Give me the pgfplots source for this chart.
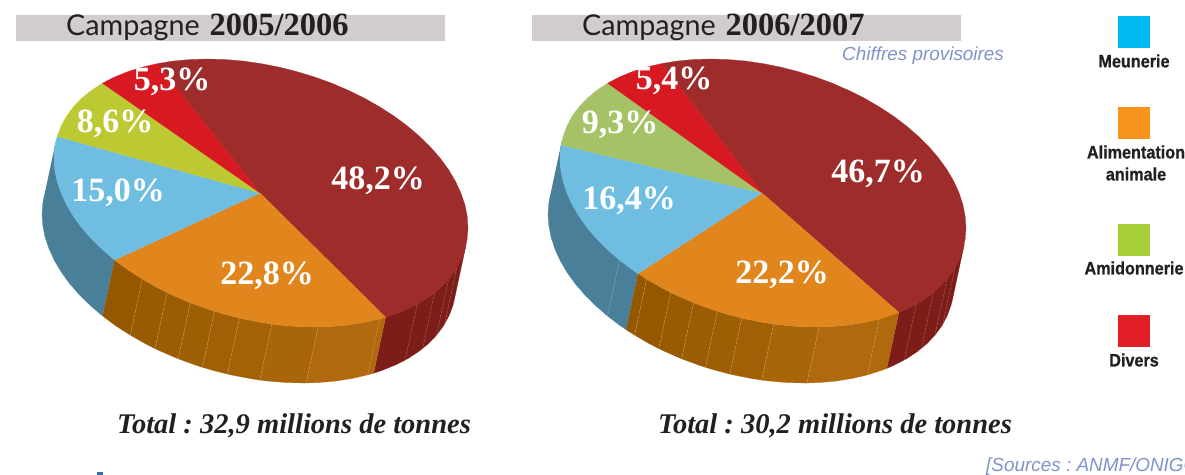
\documentclass[border=0pt]{standalone}
\usepackage{fontspec}
\usepackage{pgfplots}
\pgfplotsset{compat=1.18}
\setmainfont{Liberation Serif}
\newfontfamily\titlefont{Lato}
\newfontfamily\legfont[FakeStretch=0.9,FakeBold=0.7]{Liberation Sans Bold}
\newfontfamily\notefont{Liberation Sans}
\definecolor{banner}{HTML}{D1CDCD}
\definecolor{ink}{HTML}{231F20}
\definecolor{notec}{HTML}{7F93C9}
\definecolor{maroonT}{HTML}{9E2C2A}
\definecolor{maroonS}{HTML}{7D1D1A}
\definecolor{orangeT}{HTML}{E0861C}
\definecolor{blueT}{HTML}{6FBEE2}
\definecolor{blueS}{HTML}{4A7F99}
\definecolor{greenA}{HTML}{BCC933}
\definecolor{greenB}{HTML}{A5C366}
\definecolor{redT}{HTML}{D71A21}
\definecolor{sepO}{HTML}{D2A868}
\definecolor{sepM}{HTML}{B47A74}
\definecolor{sepB}{HTML}{9DBCCB}
\definecolor{oa}{HTML}{955800}
\definecolor{ob}{HTML}{985A02}
\definecolor{oc}{HTML}{9B5C03}
\definecolor{od}{HTML}{9E5E04}
\definecolor{oe}{HTML}{A16006}
\definecolor{of}{HTML}{A46207}
\definecolor{og}{HTML}{A96509}
\definecolor{oh}{HTML}{B0690C}
\definecolor{legA}{HTML}{00B9F2}
\definecolor{legB}{HTML}{F7941D}
\definecolor{legC}{HTML}{A6CE39}
\definecolor{legD}{HTML}{E21E26}
\definecolor{speck}{HTML}{2F6FB5}
\pgfplotsset{
  slice/.style={fill=#1,draw=#1,line width=0.2pt,mark=none},
  sepline/.style={draw=#1,line width=0.3pt,dash pattern=on 3pt off 1pt,mark=none},
}
\frenchspacing
\newcommand{\pct}[2]{\node[text=white,font=\fontsize{34}{34}\selectfont\bfseries] at (axis cs:#1) {#2};}
\newcommand{\leglab}[2]{\node[text=ink,font=\legfont\fontsize{18}{18}\selectfont] at (axis cs:#1) {#2};}
\begin{document}
\begin{tikzpicture}
\path[use as bounding box] (0,0) rectangle (1185pt,474pt);
\begin{axis}[
  at={(0,0)},anchor=south west,
  scale only axis,width=1185pt,height=474pt,
  xmin=0,xmax=1185,ymin=0,ymax=474,y dir=reverse,
  axis lines=none,clip=false,
]
% banners
\addplot[slice=banner] coordinates {(16,15)(444,15)(444,40)(16,40)};
\addplot[slice=banner] coordinates {(532,15)(960,15)(960,40)(532,40)};

% ---- left pie, sides
\addplot[slice=blueS] coordinates {(55.8,141.7)(54.8,147.2)(54,158.3)(54.8,169.7)(57.1,181.3)(61.1,193)(66.5,204.7)(73.4,216.3)(81.7,227.7)(91.4,238.8)(102.4,249.6)(114.6,260)
 (102.6,316)(90.4,305.6)(79.4,294.8)(69.7,283.7)(61.4,272.3)(54.5,260.7)(49.1,249)(45.1,237.3)(42.8,225.7)(42,214.3)(42.8,203.2)(43.8,197.7)};
\addplot[slice=maroonS] coordinates {(385.6,317.2)(394.1,314.4)(407.4,309)(419.6,302.8)(430.6,295.6)(440.3,287.8)(448.6,279.1)(455.5,269.9)(460.9,260)(464.9,249.6)(466.2,244.3)
 (454.2,300.3)(452.9,305.6)(448.9,316)(443.5,325.9)(436.6,335.1)(428.3,343.8)(418.6,351.6)(407.6,358.8)(395.4,365)(382.1,370.4)(373.6,373.2)};
\addplot[slice=oa] coordinates {(114.6,260)(127.9,269.9)(142.3,279.1)(130.3,335.1)(115.9,325.9)(102.6,316)};
\addplot[slice=ob] coordinates {(142.3,279.1)(157.5,287.8)(167,292.6)(155,348.6)(145.5,343.8)(130.3,335.1)};
\addplot[slice=oc] coordinates {(167,292.6)(173.5,295.6)(190.2,302.8)(178.2,358.8)(161.5,351.6)(155,348.6)};
\addplot[slice=od] coordinates {(190.2,302.8)(207.4,309)(214.4,311.3)(202.4,367.3)(195.4,365)(178.2,358.8)};
\addplot[slice=oe] coordinates {(214.4,311.3)(225.1,314.4)(239.4,318.1)(227.4,374.1)(213.1,370.4)(202.4,367.3)};
\addplot[slice=of] coordinates {(239.4,318.1)(243,318.9)(261,322.4)(271.8,324.1)(259.8,380.1)(249,378.4)(231,374.9)(227.4,374.1)};
\addplot[slice=og] coordinates {(271.8,324.1)(279,325)(296.9,326.5)(314.6,327)(318.1,327)(306.1,383)(302.6,383)(284.9,382.5)(267,381)(259.8,380.1)};
\addplot[slice=oh] coordinates {(318.1,327)(331.8,326.5)(348.5,325)(364.5,322.4)(379.7,318.9)(385.6,317.2)(373.6,373.2)(367.7,374.9)(352.5,378.4)(336.5,381)(319.8,382.5)(306.1,383)};
% side separators
\addplot[sepline=sepO] coordinates {(142.3,279.1)(130.3,335.1)};
\addplot[sepline=sepO] coordinates {(167,292.6)(155,348.6)};
\addplot[sepline=sepO] coordinates {(190.2,302.8)(178.2,358.8)};
\addplot[sepline=sepO] coordinates {(214.4,311.3)(202.4,367.3)};
\addplot[sepline=sepO] coordinates {(239.4,318.1)(227.4,374.1)};
\addplot[sepline=sepO] coordinates {(271.8,324.1)(259.8,380.1)};
\addplot[sepline=sepO] coordinates {(318.1,327)(306.1,383)};
\addplot[sepline=sepO] coordinates {(379.7,318.9)(367.7,374.9)};
\addplot[sepline=sepM] coordinates {(417.2,304.1)(405.2,360.1)};
\addplot[sepline=sepM] coordinates {(434.6,292.6)(422.6,348.6)};
\addplot[sepline=sepM] coordinates {(448.6,279.1)(436.6,335.1)};
\addplot[sepline=sepM] coordinates {(456.7,267.9)(444.7,323.9)};

% ---- left pie, top
\addplot[slice=maroonT] coordinates {(260,193)(157.5,63.6)(173.5,61)(190.2,59.5)(207.4,59)(225.1,59.5)(243,61)(261,63.6)(279,67.1)(296.9,71.6)(314.6,77)(331.8,83.2)(348.5,90.4)(364.5,98.2)(379.7,106.9)(394.1,116.1)(407.4,126)(419.6,136.4)(430.6,147.2)(440.3,158.3)(448.6,169.7)(455.5,181.3)(460.9,193)(464.9,204.7)(467.2,216.3)(468,227.7)(467.2,238.8)(464.9,249.6)(460.9,260)(455.5,269.9)(448.6,279.1)(440.3,287.8)(430.6,295.6)(419.6,302.8)(407.4,309)(394.1,314.4)(385.6,317.2)};
\addplot[slice=orangeT] coordinates {(260,193)(385.6,317.2)(379.7,318.9)(364.5,322.4)(348.5,325)(331.8,326.5)(314.6,327)(296.9,326.5)(279,325)(261,322.4)(243,318.9)(225.1,314.4)(207.4,309)(190.2,302.8)(173.5,295.6)(157.5,287.8)(142.3,279.1)(127.9,269.9)(114.6,260)};
\addplot[slice=blueT] coordinates {(260,193)(114.6,260)(102.4,249.6)(91.4,238.8)(81.7,227.7)(73.4,216.3)(66.5,204.7)(61.1,193)(57.1,181.3)(54.8,169.7)(54,158.3)(54.8,147.2)(57.1,136.4)};
\addplot[slice=greenA] coordinates {(260,193)(57.1,136.4)(61.1,126)(66.5,116.1)(73.4,106.9)(81.7,98.2)(91.4,90.4)(102.4,83.2)};
\addplot[slice=redT] coordinates {(260,193)(102.4,83.2)(114.6,77)(127.9,71.6)(142.3,67.1)(157.5,63.6)};

% ---- right pie, sides
\addplot[slice=blueS] coordinates {(561.7,141.7)(560.8,147.2)(560,158.3)(560.8,169.7)(563.1,181.3)(566.9,193)(572.2,204.7)(579,216.3)(587.2,227.7)(596.7,238.8)(607.5,249.6)(619.5,260)(632.5,269.9)(638,273.6)
 (626,329.6)(620.5,325.9)(607.5,316)(595.5,305.6)(584.7,294.8)(575.2,283.7)(567,272.3)(560.2,260.7)(554.9,249)(551.1,237.3)(548.8,225.7)(548,214.3)(548.8,203.2)(549.7,197.7)};
\addplot[slice=maroonS] coordinates {(898.8,312.4)(906.5,309)(918.5,302.8)(929.3,295.6)(938.8,287.8)(947,279.1)(953.8,269.9)(959.1,260)(962.9,249.6)(964.3,244.3)
 (952.3,300.3)(950.9,305.6)(947.1,316)(941.8,325.9)(935,335.1)(926.8,343.8)(917.3,351.6)(906.5,358.8)(894.5,365)(886.8,368.4)};
\addplot[slice=oa] coordinates {(638,273.6)(646.6,279.1)(634.6,335.1)(626,329.6)};
\addplot[slice=oa] coordinates {(646.6,279.1)(661.5,287.8)(670.8,292.6)(658.8,348.6)(649.5,343.8)(634.6,335.1)};
\addplot[slice=ob] coordinates {(670.8,292.6)(677.2,295.6)(693.6,302.8)(681.6,358.8)(665.2,351.6)(658.8,348.6)};
\addplot[slice=oc] coordinates {(693.6,302.8)(710.5,309)(717.3,311.3)(705.3,367.3)(698.5,365)(681.6,358.8)};
\addplot[slice=od] coordinates {(717.3,311.3)(727.8,314.4)(741.8,318.1)(729.8,374.1)(715.8,370.4)(705.3,367.3)};
\addplot[slice=oe] coordinates {(741.8,318.1)(745.3,318.9)(763,322.4)(773.6,324.1)(761.6,380.1)(751,378.4)(733.3,374.9)(729.8,374.1)};
\addplot[slice=og] coordinates {(773.6,324.1)(780.7,325)(798.2,326.5)(815.5,327)(819,327)(807,383)(803.5,383)(786.2,382.5)(768.7,381)(761.6,380.1)};
\addplot[slice=oh] coordinates {(819,327)(832.4,326.5)(848.8,325)(864.5,322.4)(879.4,318.9)(867.4,374.9)(852.5,378.4)(836.8,381)(820.4,382.5)(807,383)};
\addplot[slice=oh] coordinates {(879.4,318.9)(893.5,314.4)(898.8,312.4)(886.8,368.4)(881.5,370.4)(867.4,374.9)};
\addplot[sepline=sepB] coordinates {(619.5,260)(607.5,316)};
\addplot[sepline=sepO] coordinates {(646.6,279.1)(634.6,335.1)};
\addplot[sepline=sepO] coordinates {(670.8,292.6)(658.8,348.6)};
\addplot[sepline=sepO] coordinates {(693.6,302.8)(681.6,358.8)};
\addplot[sepline=sepO] coordinates {(717.3,311.3)(705.3,367.3)};
\addplot[sepline=sepO] coordinates {(741.8,318.1)(729.8,374.1)};
\addplot[sepline=sepO] coordinates {(773.6,324.1)(761.6,380.1)};
\addplot[sepline=sepO] coordinates {(819,327)(807,383)};
\addplot[sepline=sepO] coordinates {(879.4,318.9)(867.4,374.9)};
\addplot[sepline=sepM] coordinates {(916.2,304.1)(904.2,360.1)};
\addplot[sepline=sepM] coordinates {(933.3,292.6)(921.3,348.6)};
\addplot[sepline=sepM] coordinates {(947,279.1)(935,335.1)};
\addplot[sepline=sepM] coordinates {(954.9,267.9)(942.9,323.9)};

% ---- right pie, top
\addplot[slice=maroonT] coordinates {(762,193)(661.5,63.6)(677.2,61)(693.6,59.5)(710.5,59)(727.8,59.5)(745.3,61)(763,63.6)(780.7,67.1)(798.2,71.6)(815.5,77)(832.4,83.2)(848.8,90.4)(864.5,98.2)(879.4,106.9)(893.5,116.1)(906.5,126)(918.5,136.4)(929.3,147.2)(938.8,158.3)(947,169.7)(953.8,181.3)(959.1,193)(962.9,204.7)(965.2,216.3)(966,227.7)(965.2,238.8)(962.9,249.6)(959.1,260)(953.8,269.9)(947,279.1)(938.8,287.8)(929.3,295.6)(918.5,302.8)(906.5,309)(898.8,312.4)};
\addplot[slice=orangeT] coordinates {(762,193)(898.8,312.4)(893.5,314.4)(879.4,318.9)(864.5,322.4)(848.8,325)(832.4,326.5)(815.5,327)(798.2,326.5)(780.7,325)(763,322.4)(745.3,318.9)(727.8,314.4)(710.5,309)(693.6,302.8)(677.2,295.6)(661.5,287.8)(646.6,279.1)(638,273.6)};
\addplot[slice=blueT] coordinates {(762,193)(638,273.6)(632.5,269.9)(619.5,260)(607.5,249.6)(596.7,238.8)(587.2,227.7)(579,216.3)(572.2,204.7)(566.9,193)(563.1,181.3)(560.8,169.7)(560,158.3)(560.8,147.2)(561.1,145)};
\addplot[slice=greenB] coordinates {(762,193)(561.1,145)(563.1,136.4)(566.9,126)(572.2,116.1)(579,106.9)(587.2,98.2)(596.7,90.4)(607.5,83.2)};
\addplot[slice=redT] coordinates {(762,193)(607.5,83.2)(619.5,77)(632.5,71.6)(646.6,67.1)(661.5,63.6)};

% legend squares
\addplot[slice=legA] coordinates {(1118,16)(1149,16)(1149,47)(1118,47)};
\addplot[slice=legB] coordinates {(1118,107)(1149,107)(1149,138)(1118,138)};
\addplot[slice=legC] coordinates {(1118,224)(1149,224)(1149,255)(1118,255)};
\addplot[slice=legD] coordinates {(1118,315)(1149,315)(1149,346)(1118,346)};

% cut-off speck at the bottom edge
\addplot[slice=speck] coordinates {(97,472.5)(102,472.5)(102,474)(97,474)};

% percentages
\pct{378,181}{48,2\%}
\pct{267,276}{22,8\%}
\pct{118,193}{15,0\%}
\pct{115,124}{8,6\%}
\pct{172,82}{5,3\%}
\pct{878,174}{46,7\%}
\pct{782,275}{22,2\%}
\pct{629,201}{16,4\%}
\pct{620,125}{9,3\%}
\pct{674,81}{5,4\%}

% titles
\node[anchor=base west,inner sep=0pt,text=ink] at (axis cs:66,35) {{\titlefont\fontsize{28.7}{28}\selectfont Campagne}\hspace{10pt}{\fontsize{32.5}{32}\selectfont\bfseries 2005/2006}};
\node[anchor=base west,inner sep=0pt,text=ink] at (axis cs:582,35) {{\titlefont\fontsize{28.7}{28}\selectfont Campagne}\hspace{10pt}{\fontsize{32.5}{32}\selectfont\bfseries 2006/2007}};
\node[anchor=base west,inner sep=0pt,text=notec,font=\notefont\fontsize{18.9}{19}\selectfont\itshape] at (axis cs:842,60) {Chiffres provisoires};
\node[anchor=base west,inner sep=0pt,text=notec,font=\notefont\fontsize{18.9}{19}\selectfont\itshape] at (axis cs:986,471) {[Sources : ANMF/ONIGC};
\node[anchor=base west,inner sep=0pt,text=ink,font=\fontsize{28.5}{28}\selectfont\bfseries\itshape] at (axis cs:117,433) {Total : 32,9 millions de tonnes};
\node[anchor=base west,inner sep=0pt,text=ink,font=\fontsize{28.5}{28}\selectfont\bfseries\itshape] at (axis cs:658,433) {Total : 30,2 millions de tonnes};

% legend labels
\leglab{1134,61}{Meunerie}
\leglab{1136,152}{Alimentation}
\leglab{1136,174}{animale}
\leglab{1134,268}{Amidonnerie}
\leglab{1134,360}{Divers}
\end{axis}
\end{tikzpicture}
\end{document}
